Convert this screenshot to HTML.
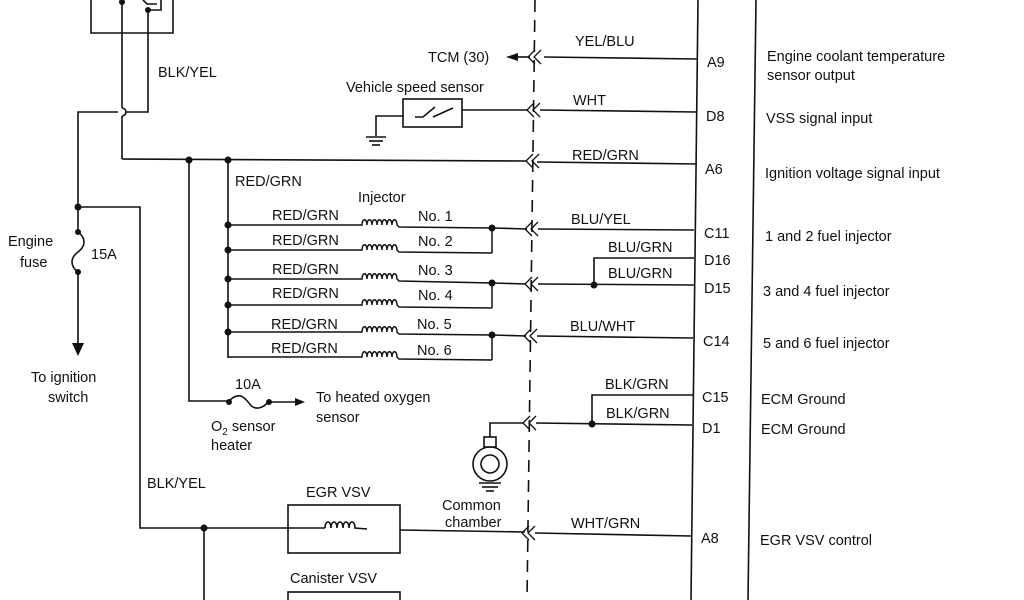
<!DOCTYPE html>
<html><head><meta charset="utf-8"><style>
html,body{margin:0;padding:0;background:#fff;}
svg{display:block;}
text{font-family:"Liberation Sans",sans-serif;font-size:14.5px;fill:#111;}
</style></head><body>
<svg width="1024" height="600" viewBox="0 0 1024 600" xmlns="http://www.w3.org/2000/svg">
<g stroke="#111" stroke-width="1.6" fill="none">
<!-- top box -->
<polyline points="91,0 91,33 173,33 173,0"/>
<line x1="122" y1="0" x2="122" y2="108"/>
<path d="M122,108 a4,4 0 0 1 0,8"/>
<line x1="122" y1="116" x2="122" y2="159"/>
<polyline points="148,10 161,10 161,0"/>
<polyline points="148,10 148,112 126,112"/>
<polyline points="118,112 78,112 78,232"/>
<path d="M143,0 l4,4 l10,0"/>
<!-- A6 main line -->
<line x1="122" y1="159" x2="527" y2="161"/>
<line x1="537" y1="162" x2="697" y2="164"/>
<!-- engine fuse -->
<path d="M78,232 c8,6 8,14 0,20 c-8,6 -8,14 0,20"/>
<line x1="78" y1="272" x2="78" y2="345"/>
<polyline points="78,207 140,207 140,528 288,528"/>
<line x1="204" y1="528" x2="204" y2="600"/>
<!-- EGR VSV -->
<rect x="288" y="505" width="112" height="48"/>
<polyline points="288,528 325,528"/>
<path d="M325,528 c0,-8 6,-8 6,0 c0,-8 6,-8 6,0 c0,-8 6,-8 6,0 c0,-8 6,-8 6,0 c0,-8 6,-8 6,0 l12,1 M400,530 L525,532"/>
<rect x="288" y="592" width="112" height="20"/>
<!-- O2 heater branch -->
<polyline points="189,160 189,401 229,401"/>
<path d="M229,401 c10,-10 15,-4 20,2 c5,8 14,6 20,-2"/>
<line x1="269" y1="402" x2="295" y2="402"/>
<!-- injector bus -->
<line x1="228" y1="160" x2="228" y2="358"/>
<!-- ECM box -->
<line x1="698" y1="0" x2="691" y2="600"/>
<line x1="756" y1="0" x2="748" y2="600"/>
<!-- dashed -->
<line x1="535" y1="0" x2="527" y2="600" stroke-dasharray="12,8"/>
<!-- A9 -->
<line x1="544" y1="57" x2="697" y2="59"/>
<line x1="516" y1="57" x2="530" y2="57"/>
<!-- D8 / VSS -->
<rect x="403" y="99" width="59" height="28"/>
<path d="M415,117 l8,0 l12,-10 M433,117 l20,-9"/>
<line x1="462" y1="110" x2="528" y2="110"/>
<line x1="540" y1="110" x2="696" y2="112"/>
<polyline points="403,116 376,116 376,136"/>
<line x1="366" y1="137" x2="386" y2="137"/><line x1="369" y1="141" x2="383" y2="141"/><line x1="372" y1="145" x2="380" y2="145"/>
<!-- C11 -->
<line x1="492" y1="228" x2="527" y2="229"/>
<line x1="538" y1="229" x2="694" y2="230"/>
<!-- D16/D15 -->
<polyline points="694,258 594,258 594,285"/>
<line x1="538" y1="284" x2="694" y2="285"/>
<line x1="492" y1="283" x2="526" y2="284"/>
<!-- C14 -->
<line x1="492" y1="335" x2="526" y2="336"/>
<line x1="537" y1="336" x2="693" y2="338"/>
<!-- C15/D1 -->
<polyline points="693,395 592,395 592,424"/>
<line x1="536" y1="423" x2="692" y2="425"/>
<polyline points="490,437 490,423 524,423"/>
<!-- A8 -->
<line x1="535" y1="533" x2="691" y2="536"/>
<!-- common chamber -->
<rect x="484" y="437" width="12" height="10"/>
<circle cx="490" cy="464" r="17"/>
<circle cx="490" cy="464" r="9"/>
<line x1="479" y1="483" x2="501" y2="483"/><line x1="482" y1="487" x2="498" y2="487"/><line x1="486" y1="491" x2="494" y2="491"/>
<!-- chevrons -->
<g stroke-width="1.3">
<path d="M535,50 l-7,7 l7,7 M541,50 l-7,7 l7,7"/>
<path d="M534,103 l-7,7 l7,7 M540,103 l-7,7 l7,7"/>
<path d="M533,154 l-7,7 l7,7 M539,154 l-7,7 l7,7"/>
<path d="M532,222 l-7,7 l7,7 M538,222 l-7,7 l7,7"/>
<path d="M532,277 l-7,7 l7,7 M538,277 l-7,7 l7,7"/>
<path d="M531,329 l-7,7 l7,7 M537,329 l-7,7 l7,7"/>
<path d="M530,416 l-7,7 l7,7 M536,416 l-7,7 l7,7"/>
<path d="M529,526 l-7,7 l7,7 M535,526 l-7,7 l7,7"/>
</g>
</g>
<!-- injector rows -->
<g stroke="#111" stroke-width="1.5" fill="none">
<path d="M228,225 L362,225 c0,-7 5,-7 5,0 c0,-7 5,-7 5,0 c0,-7 5,-7 5,0 c0,-7 5,-7 5,0 c0,-7 5,-7 5,0 c0,-7 5,-7 5,0 c0,-7 5,-7 5,0 l2,2 L492,228 L492,253"/>
<path d="M228,250 L362,250 c0,-7 5,-7 5,0 c0,-7 5,-7 5,0 c0,-7 5,-7 5,0 c0,-7 5,-7 5,0 c0,-7 5,-7 5,0 c0,-7 5,-7 5,0 c0,-7 5,-7 5,0 l2,2 L492,253"/>
<path d="M228,279 L362,279 c0,-7 5,-7 5,0 c0,-7 5,-7 5,0 c0,-7 5,-7 5,0 c0,-7 5,-7 5,0 c0,-7 5,-7 5,0 c0,-7 5,-7 5,0 c0,-7 5,-7 5,0 l2,2 L492,283 L492,308"/>
<path d="M228,305 L362,305 c0,-7 5,-7 5,0 c0,-7 5,-7 5,0 c0,-7 5,-7 5,0 c0,-7 5,-7 5,0 c0,-7 5,-7 5,0 c0,-7 5,-7 5,0 c0,-7 5,-7 5,0 l2,2 L492,308"/>
<path d="M228,332 L362,332 c0,-7 5,-7 5,0 c0,-7 5,-7 5,0 c0,-7 5,-7 5,0 c0,-7 5,-7 5,0 c0,-7 5,-7 5,0 c0,-7 5,-7 5,0 c0,-7 5,-7 5,0 l2,2 L492,335 L492,360"/>
<path d="M228,357 L362,357 c0,-7 5,-7 5,0 c0,-7 5,-7 5,0 c0,-7 5,-7 5,0 c0,-7 5,-7 5,0 c0,-7 5,-7 5,0 c0,-7 5,-7 5,0 c0,-7 5,-7 5,0 l2,2 L492,360"/>
</g>
<!-- dots -->
<g fill="#111">
<circle cx="189" cy="160" r="3.5"/><circle cx="228" cy="160" r="3.5"/>
<circle cx="78" cy="207" r="3.5"/><circle cx="78" cy="232" r="3"/><circle cx="78" cy="272" r="3"/>
<circle cx="228" cy="225" r="3.5"/><circle cx="228" cy="250" r="3.5"/><circle cx="228" cy="279" r="3.5"/><circle cx="228" cy="305" r="3.5"/><circle cx="228" cy="332" r="3.5"/>
<circle cx="492" cy="228" r="3.5"/><circle cx="492" cy="283" r="3.5"/><circle cx="492" cy="335" r="3.5"/>
<circle cx="594" cy="285" r="3.5"/><circle cx="592" cy="424" r="3.5"/>
<circle cx="204" cy="528" r="3.5"/><circle cx="229" cy="402" r="3"/><circle cx="269" cy="402" r="3"/>
<circle cx="122" cy="2" r="3"/><circle cx="148" cy="10" r="3"/>
<polygon points="72,343 84,343 78,356"/>
<polygon points="295,398 295,406 305,402"/>
<polygon points="518,53 518,61 506,57"/>
</g>
<!-- labels -->
<text x="158" y="77">BLK/YEL</text>
<text x="428" y="62">TCM (30)</text>
<text x="346" y="92">Vehicle speed sensor</text>
<text x="575" y="46">YEL/BLU</text>
<text x="573" y="105">WHT</text>
<text x="572" y="160">RED/GRN</text>
<text x="235" y="186">RED/GRN</text>
<text x="358" y="202">Injector</text>
<text x="272" y="220">RED/GRN</text><text x="418" y="221">No. 1</text>
<text x="272" y="245">RED/GRN</text><text x="418" y="246">No. 2</text>
<text x="272" y="274">RED/GRN</text><text x="418" y="275">No. 3</text>
<text x="272" y="298">RED/GRN</text><text x="418" y="300">No. 4</text>
<text x="271" y="329">RED/GRN</text><text x="417" y="329">No. 5</text>
<text x="271" y="353">RED/GRN</text><text x="417" y="355">No. 6</text>
<text x="571" y="224">BLU/YEL</text>
<text x="608" y="252">BLU/GRN</text>
<text x="608" y="278">BLU/GRN</text>
<text x="570" y="331">BLU/WHT</text>
<text x="605" y="389">BLK/GRN</text>
<text x="606" y="418">BLK/GRN</text>
<text x="571" y="528">WHT/GRN</text>
<text x="8" y="246">Engine</text><text x="20" y="267">fuse</text><text x="91" y="259">15A</text>
<text x="31" y="382">To ignition</text><text x="48" y="402">switch</text>
<text x="235" y="389">10A</text>
<text x="316" y="402">To heated oxygen</text><text x="316" y="422">sensor</text>
<text x="211" y="431">O<tspan font-size="10" dy="4">2</tspan><tspan dy="-4"> sensor</tspan></text><text x="211" y="450">heater</text>
<text x="147" y="488">BLK/YEL</text>
<text x="306" y="497">EGR VSV</text>
<text x="442" y="510">Common</text><text x="445" y="527">chamber</text>
<text x="290" y="583">Canister VSV</text>
<text x="707" y="67">A9</text>
<text x="706" y="121">D8</text>
<text x="705" y="174">A6</text>
<text x="704" y="238">C11</text>
<text x="704" y="265">D16</text>
<text x="704" y="293">D15</text>
<text x="703" y="346">C14</text>
<text x="702" y="402">C15</text>
<text x="702" y="433">D1</text>
<text x="701" y="543">A8</text>
<text x="767" y="61">Engine coolant temperature</text>
<text x="767" y="80">sensor output</text>
<text x="766" y="123">VSS signal input</text>
<text x="765" y="178">Ignition voltage signal input</text>
<text x="765" y="241">1 and 2 fuel injector</text>
<text x="763" y="296">3 and 4 fuel injector</text>
<text x="763" y="348">5 and 6 fuel injector</text>
<text x="761" y="404">ECM Ground</text>
<text x="761" y="434">ECM Ground</text>
<text x="760" y="545">EGR VSV control</text>
</svg>
</body></html>
